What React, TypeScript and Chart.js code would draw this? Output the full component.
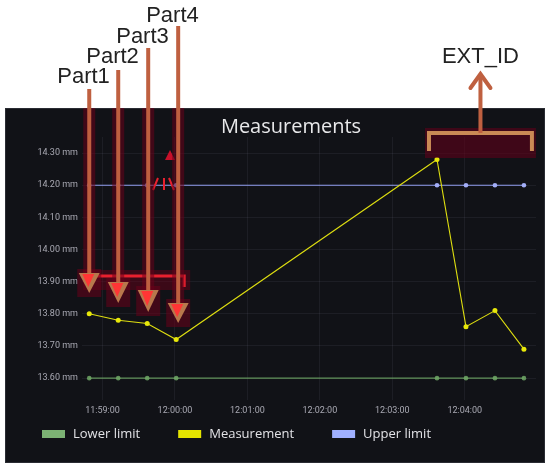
import React, { useEffect, useRef } from "react";
import { Chart, registerables } from "chart.js";

Chart.register(...registerables);

// ---- data ----
const timeLabels = ["11:58:49", "11:59:13", "11:59:37", "12:00:01", "12:03:37", "12:04:01", "12:04:25", "12:04:49"];
const measurement = [13.8, 13.78, 13.77, 13.72, 14.28, 13.76, 13.81, 13.69];
const lowerLimit = [13.6, 13.6, 13.6, 13.6, 13.6, 13.6, 13.6, 13.6];
const upperLimit = [14.2, 14.2, 14.2, 14.2, 14.2, 14.2, 14.2, 14.2];
const seriesNames = ["Lower limit", "Measurement", "Upper limit"];
const xTickLabels = ["11:59:00", "12:00:00", "12:01:00", "12:02:00", "12:03:00", "12:04:00"];
const xRange = ["11:58:43", "12:04:59"];
const yTicks = [13.6, 13.7, 13.8, 13.9, 14.0, 14.1, 14.2, 14.3];
const yRange = [13.532, 14.35];
const unit = "mm";
const chartTitle = "Measurements";
const partLabels = ["Part1", "Part2", "Part3", "Part4"];
const extLabel = "EXT_ID";

const BASE = "11:59:00";
const toAbs = (t: string) => {
  const [h, m, s] = t.split(":").map(Number);
  return h * 3600 + m * 60 + s;
};
const toSec = (t: string) => toAbs(t) - toAbs(BASE);
const pad = (n: number) => String(n).padStart(2, "0");
const fmtSec = (v: number) => {
  const t = Math.round(toAbs(BASE) + v);
  return `${pad(Math.floor(t / 3600))}:${pad(Math.floor((t % 3600) / 60))}:${pad(t % 60)}`;
};

const mkPoints = (vals: number[]) => vals.map((y, i) => ({ x: toSec(timeLabels[i]), y }));

// ---- styling ----
const PANEL = { x: 5, y: 108, w: 540, h: 355 };
const ARROW = "#bf6040";
const HALO = "rgba(105,0,25,0.55)";

const bgPlugin = {
  id: "bgPanel",
  beforeDraw(chart: any) {
    const { ctx, width, height } = chart;
    ctx.save();
    ctx.fillStyle = "#ffffff";
    ctx.fillRect(0, 0, width, height);
    ctx.fillStyle = "#111217";
    ctx.fillRect(PANEL.x, PANEL.y, PANEL.w, PANEL.h);
    ctx.strokeStyle = "#2a2c33";
    ctx.lineWidth = 1;
    ctx.strokeRect(PANEL.x + 0.5, PANEL.y + 0.5, PANEL.w - 1, PANEL.h - 1);
    ctx.restore();
  },
};

const titleLegendPlugin = {
  id: "titleLegend",
  afterDraw(chart: any) {
    const { ctx } = chart;
    ctx.save();
    // title
    ctx.fillStyle = "#e8e8ea";
    ctx.font = '20px "Open Sans"';
    ctx.textAlign = "center";
    ctx.textBaseline = "alphabetic";
    ctx.fillText(chartTitle, 291, 133);
    // legend
    ctx.font = '13px "Open Sans"';
    ctx.textAlign = "left";
    ctx.textBaseline = "middle";
    let x = 42;
    const y = 434;
    chart.data.datasets.forEach((ds: any) => {
      ctx.fillStyle = ds.legendColor;
      ctx.fillRect(x, y - 4, 23, 8);
      ctx.fillStyle = "#e2e2e6";
      ctx.fillText(ds.label, x + 31, y);
      x += 31 + ctx.measureText(ds.label).width + 38;
    });
    ctx.restore();
  },
};

const tri = (ctx: any, cx: number, top: number, tip: number, hw: number, fill: string) => {
  ctx.beginPath();
  ctx.moveTo(cx - hw, top);
  ctx.lineTo(cx + hw, top);
  ctx.lineTo(cx, tip);
  ctx.closePath();
  ctx.fillStyle = fill;
  ctx.fill();
};

const annotationPlugin = {
  id: "annotations",
  afterDraw(chart: any) {
    const { ctx } = chart;
    const xs = chart.scales.x;
    const lineTop = [89, 70, 48, 26];
    const headTop = [273, 282, 290, 303];
    const headTip = [293, 303, 312, 323];
    const labelBase = [83, 63, 43, 22];
    const offs = [0, 0, 1, 2];
    ctx.save();
    // red bracket
    const p0 = xs.getPixelForValue(toSec(timeLabels[0]));
    const p3 = xs.getPixelForValue(toSec(timeLabels[3])) + 8;
    ctx.fillStyle = "rgba(110,0,25,0.45)";
    ctx.fillRect(p0 - 6, 270, p3 - p0 + 12, 20);
    ctx.strokeStyle = "#e8202e";
    ctx.lineWidth = 3;
    ctx.beginPath();
    ctx.moveTo(p0, 276);
    ctx.lineTo(p3, 276);
    ctx.lineTo(p3, 287);
    ctx.stroke();
    // small red marks
    tri(ctx, 170, 160, 150, 5, "#c8102a");
    ctx.lineWidth = 2;
    ctx.beginPath();
    ctx.moveTo(153, 190); ctx.lineTo(158, 178);
    ctx.moveTo(164, 178); ctx.lineTo(164, 190);
    ctx.moveTo(169, 178); ctx.lineTo(174, 190);
    ctx.stroke();

    partLabels.forEach((lab, i) => {
      const cx = xs.getPixelForValue(toSec(timeLabels[i])) + offs[i];
      // halo inside panel
      ctx.fillStyle = HALO;
      ctx.fillRect(cx - 6, PANEL.y, 12, headTop[i] - PANEL.y);
      ctx.fillRect(cx - 12, headTop[i] - 4, 24, headTip[i] - headTop[i] + 8);
      // shaft
      ctx.strokeStyle = ARROW;
      ctx.lineWidth = 4;
      ctx.beginPath();
      ctx.moveTo(cx, lineTop[i]);
      ctx.lineTo(cx, headTop[i]);
      ctx.stroke();
      // head
      tri(ctx, cx, headTop[i], headTip[i], 10.5, "#b8784c");
      tri(ctx, cx - 1, headTop[i] + 1, headTip[i] - 6, 6, "#ff3535");
      // label
      ctx.fillStyle = "#222222";
      ctx.font = '22px "Liberation Sans"';
      ctx.textAlign = "left";
      ctx.textBaseline = "alphabetic";
      ctx.fillText(lab, cx - 32, labelBase[i]);
    });

    // EXT_ID bracket
    const q0 = xs.getPixelForValue(toSec(timeLabels[4])) - 8;
    const q1 = xs.getPixelForValue(toSec(timeLabels[7])) + 8;
    const qm = (q0 + q1) / 2;
    ctx.fillStyle = "rgba(95,0,25,0.6)";
    ctx.fillRect(q0 - 4, 128, q1 - q0 + 8, 30);
    ctx.strokeStyle = "#c98a55";
    ctx.lineWidth = 4;
    ctx.beginPath();
    ctx.moveTo(q0, 151);
    ctx.lineTo(q0, 133);
    ctx.lineTo(q1, 133);
    ctx.lineTo(q1, 151);
    ctx.stroke();
    ctx.strokeStyle = ARROW;
    ctx.beginPath();
    ctx.moveTo(qm, 133);
    ctx.lineTo(qm, 74);
    ctx.stroke();
    ctx.lineCap = "round";
    ctx.beginPath();
    ctx.moveTo(qm - 10, 88);
    ctx.lineTo(qm, 74);
    ctx.lineTo(qm + 10, 88);
    ctx.stroke();
    ctx.fillStyle = "#222222";
    ctx.font = '22px "Liberation Sans"';
    ctx.textAlign = "center";
    ctx.fillText(extLabel, qm, 63);
    ctx.restore();
  },
};

export default function App() {
  const ref = useRef<HTMLCanvasElement | null>(null);

  useEffect(() => {
    if (!ref.current) return;
    const tickFont = { family: "Roboto", size: 9 };
    const gridColor = "rgba(204,204,220,0.07)";
    const chart = new Chart(ref.current, {
      type: "line",
      data: {
        datasets: [
          {
            label: seriesNames[0],
            data: mkPoints(lowerLimit),
            borderColor: "rgba(112,168,102,0.85)",
            backgroundColor: "rgba(112,168,102,0.85)",
            legendColor: "#7cb274",
            borderWidth: 1.2,
            pointRadius: 2.3,
            pointBorderWidth: 0,
            tension: 0,
          } as any,
          {
            label: seriesNames[1],
            data: mkPoints(measurement),
            borderColor: "#dede10",
            backgroundColor: "#e8e80a",
            legendColor: "#e5e500",
            borderWidth: 1.1,
            pointRadius: 2.5,
            pointBorderWidth: 0,
            tension: 0,
          } as any,
          {
            label: seriesNames[2],
            data: mkPoints(upperLimit),
            borderColor: "#929ff0",
            backgroundColor: "#a3aef7",
            legendColor: "#a0b0ff",
            borderWidth: 1.2,
            pointRadius: 2.3,
            pointBorderWidth: 0,
            tension: 0,
          } as any,
        ],
      },
      options: {
        animation: false,
        responsive: true,
        maintainAspectRatio: false,
        layout: { padding: { top: 137, right: 14, bottom: 49, left: 0 } },
        plugins: {
          legend: { display: false },
          title: { display: false },
          tooltip: { enabled: false },
        },
        scales: {
          x: {
            type: "linear",
            min: toSec(xRange[0]),
            max: toSec(xRange[1]),
            afterBuildTicks: (s: any) => {
              s.ticks = xTickLabels.map((t) => ({ value: toSec(t) }));
            },
            afterFit: (s: any) => {
              s.height = 20;
            },
            ticks: {
              callback: (v: any) => fmtSec(Number(v)),
              color: "#a9a9b3",
              font: tickFont,
              padding: 5,
              maxRotation: 0,
              autoSkip: false,
            },
            grid: { color: gridColor, drawTicks: false },
            border: { display: false },
          },
          y: {
            type: "linear",
            min: yRange[0],
            max: yRange[1],
            afterBuildTicks: (s: any) => {
              s.ticks = yTicks.map((v) => ({ value: v }));
            },
            afterFit: (s: any) => {
              s.width = 82;
            },
            ticks: {
              callback: (v: any) => `${Number(v).toFixed(2)} ${unit}`,
              color: "#a9a9b3",
              font: tickFont,
              padding: 4,
            },
            grid: { color: gridColor, drawTicks: false },
            border: { display: false },
          },
        },
      } as any,
      plugins: [bgPlugin, titleLegendPlugin, annotationPlugin],
    });
    return () => chart.destroy();
  }, []);

  return (
    <div style={{ position: "fixed", left: 0, top: 0, width: 550, height: 469 }}>
      <canvas ref={ref} />
    </div>
  );
}
